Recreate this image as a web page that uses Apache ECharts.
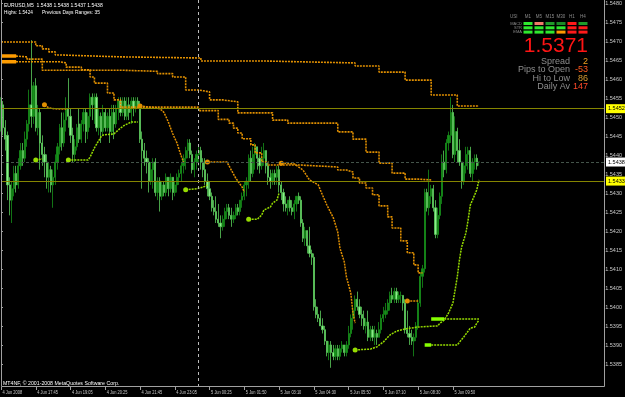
<!DOCTYPE html>
<html><head><meta charset="utf-8">
<script src="https://cdn.jsdelivr.net/npm/echarts@6/dist/echarts.min.js"></script>
<style>html,body{margin:0;padding:0;background:#000;}#c{width:625px;height:397px;}</style>
</head><body><div id="c"></div>
<script>
// ---- x-axis tick labels (every 16 bars of M5) ----
const tickLabels = ["4 Jun 2008","4 Jun 17:45","4 Jun 19:05","4 Jun 20:25","4 Jun 21:45","4 Jun 23:05","5 Jun 00:25","5 Jun 01:50","5 Jun 03:10","5 Jun 04:30","5 Jun 05:50","5 Jun 07:10","5 Jun 08:30","5 Jun 09:50"];
const totalSlots = 279;   // bars + right-side chart shift
const yTickMin = 1.5385, yTickMax = 1.5480, yTickStep = 0.0005;

// ---- candles (EURUSD M5) ----
const opens = [1.5448,1.5453,1.5447,1.5445,1.5432,1.5428,1.5431,1.5435,1.5432,1.5437,
1.5441,1.5439,1.5444,1.5448,1.5453,1.5450,1.5458,1.5447,1.5451,1.5443,
1.5440,1.5438,1.5434,1.5436,1.5432,1.5434,1.5438,1.5442,1.5447,1.5443,
1.5449,1.5452,1.5450,1.5445,1.5440,1.5442,1.5448,1.5444,1.5448,1.5451,
1.5446,1.5450,1.5455,1.5453,1.5455,1.5447,1.5450,1.5446,1.5451,1.5447,
1.5450,1.5446,1.5451,1.5448,1.5452,1.5454,1.5451,1.5454,1.5450,1.5453,
1.5451,1.5454,1.5452,1.5454,1.5453,1.5444,1.5441,1.5439,1.5438,1.5433,
1.5436,1.5438,1.5430,1.5433,1.5429,1.5432,1.5430,1.5434,1.5431,1.5434,
1.5430,1.5432,1.5434,1.5435,1.5437,1.5439,1.5441,1.5443,1.5440,1.5436,
1.5438,1.5440,1.5441,1.5438,1.5436,1.5433,1.5431,1.5429,1.5426,1.5425,
1.5423,1.5422,1.5421,1.5423,1.5425,1.5426,1.5424,1.5423,1.5424,1.5426,
1.5425,1.5428,1.5429,1.5432,1.5433,1.5439,1.5435,1.5440,1.5442,1.5439,
1.5437,1.5439,1.5441,1.5437,1.5434,1.5433,1.5435,1.5434,1.5436,1.5432,
1.5430,1.5427,1.5426,1.5428,1.5426,1.5425,1.5427,1.5429,1.5428,1.5422,
1.5418,1.5420,1.5416,1.5414,1.5413,1.5400,1.5398,1.5397,1.5395,1.5394,
1.5391,1.5388,1.5390,1.5388,1.5387,1.5389,1.5387,1.5389,1.5390,1.5388,
1.5390,1.5393,1.5397,1.5399,1.5402,1.5400,1.5398,1.5397,1.5395,1.5396,
1.5392,1.5394,1.5392,1.5393,1.5392,1.5394,1.5397,1.5398,1.5399,1.5401,
1.5403,1.5402,1.5404,1.5402,1.5403,1.5403,1.5401,1.5394,1.5393,1.5392,
1.5391,1.5392,1.5395,1.5401,1.5408,1.5410,1.5430,1.5426,1.5429,1.5431,
1.5426,1.5419,1.5424,1.5429,1.5438,1.5436,1.5443,1.5445,1.5451,1.5440,
1.5446,1.5441,1.5438,1.5433,1.5437,1.5440,1.5441,1.5435,1.5438,1.5439,
1.5438];
const closes = [1.5453,1.5447,1.5444,1.5432,1.5428,1.5431,1.5435,1.5432,1.5437,1.5441,
1.5439,1.5444,1.5448,1.5453,1.5450,1.5458,1.5447,1.5451,1.5443,1.5440,
1.5438,1.5434,1.5436,1.5432,1.5434,1.5438,1.5442,1.5447,1.5443,1.5449,
1.5452,1.5450,1.5445,1.5440,1.5442,1.5447,1.5444,1.5448,1.5451,1.5446,
1.5450,1.5455,1.5453,1.5455,1.5447,1.5450,1.5446,1.5451,1.5447,1.5450,
1.5446,1.5451,1.5448,1.5452,1.5454,1.5451,1.5454,1.5450,1.5453,1.5451,
1.5454,1.5452,1.5454,1.5453,1.5444,1.5441,1.5439,1.5438,1.5433,1.5436,
1.5438,1.5430,1.5433,1.5429,1.5432,1.5430,1.5434,1.5431,1.5434,1.5430,
1.5432,1.5434,1.5435,1.5437,1.5439,1.5441,1.5443,1.5440,1.5436,1.5438,
1.5440,1.5441,1.5438,1.5436,1.5433,1.5431,1.5429,1.5426,1.5425,1.5423,
1.5422,1.5421,1.5423,1.5425,1.5426,1.5424,1.5423,1.5424,1.5426,1.5425,
1.5428,1.5429,1.5432,1.5433,1.5439,1.5435,1.5440,1.5442,1.5439,1.5437,
1.5439,1.5441,1.5437,1.5434,1.5433,1.5435,1.5434,1.5436,1.5432,1.5430,
1.5427,1.5426,1.5428,1.5426,1.5425,1.5427,1.5429,1.5428,1.5422,1.5418,
1.5420,1.5416,1.5414,1.5413,1.5400,1.5398,1.5397,1.5395,1.5394,1.5391,
1.5388,1.5390,1.5388,1.5387,1.5389,1.5387,1.5389,1.5390,1.5388,1.5390,
1.5393,1.5397,1.5399,1.5402,1.5400,1.5398,1.5397,1.5395,1.5396,1.5392,
1.5394,1.5392,1.5393,1.5392,1.5394,1.5397,1.5398,1.5399,1.5401,1.5403,
1.5402,1.5404,1.5402,1.5403,1.5403,1.5401,1.5394,1.5393,1.5392,1.5391,
1.5392,1.5395,1.5401,1.5408,1.5410,1.5430,1.5426,1.5429,1.5431,1.5426,
1.5419,1.5424,1.5429,1.5438,1.5436,1.5443,1.5445,1.5451,1.5440,1.5446,
1.5441,1.5438,1.5433,1.5437,1.5440,1.5441,1.5435,1.5438,1.5439,1.5437,
1.5438];
const lows = [1.5446,1.5445,1.5441,1.5428,1.5424,1.5422,1.5429,1.5430,1.5431,1.5436,
1.5437,1.5438,1.5442,1.5446,1.5447,1.5448,1.5446,1.5445,1.5436,1.5437,
1.5434,1.5431,1.5430,1.5430,1.5426,1.5432,1.5436,1.5440,1.5441,1.5442,
1.5446,1.5447,1.5443,1.5438,1.5438,1.5441,1.5443,1.5443,1.5446,1.5443,
1.5444,1.5447,1.5449,1.5448,1.5446,1.5445,1.5443,1.5445,1.5446,1.5446,
1.5443,1.5445,1.5444,1.5447,1.5449,1.5450,1.5450,1.5449,1.5449,1.5449,
1.5448,1.5450,1.5451,1.5452,1.5443,1.5431,1.5437,1.5435,1.5430,1.5432,
1.5431,1.5429,1.5428,1.5425,1.5428,1.5429,1.5429,1.5429,1.5430,1.5428,
1.5429,1.5430,1.5432,1.5433,1.5435,1.5436,1.5439,1.5439,1.5435,1.5434,
1.5436,1.5437,1.5436,1.5434,1.5432,1.5429,1.5428,1.5425,1.5424,1.5422,
1.5421,1.5418,1.5420,1.5421,1.5423,1.5423,1.5421,1.5422,1.5423,1.5424,
1.5424,1.5426,1.5428,1.5429,1.5431,1.5433,1.5434,1.5436,1.5436,1.5435,
1.5436,1.5437,1.5435,1.5432,1.5431,1.5432,1.5432,1.5432,1.5430,1.5428,
1.5425,1.5425,1.5424,1.5425,1.5424,1.5423,1.5425,1.5427,1.5421,1.5417,
1.5416,1.5414,1.5413,1.5411,1.5399,1.5397,1.5396,1.5395,1.5393,1.5390,
1.5387,1.5386,1.5384,1.5386,1.5386,1.5386,1.5386,1.5388,1.5387,1.5387,
1.5389,1.5392,1.5394,1.5397,1.5399,1.5397,1.5395,1.5394,1.5393,1.5391,
1.5391,1.5391,1.5390,1.5390,1.5392,1.5393,1.5396,1.5397,1.5398,1.5399,
1.5401,1.5401,1.5401,1.5401,1.5401,1.5399,1.5393,1.5392,1.5390,1.5390,
1.5387,1.5391,1.5394,1.5400,1.5405,1.5409,1.5425,1.5424,1.5427,1.5425,
1.5418,1.5418,1.5423,1.5427,1.5434,1.5435,1.5441,1.5443,1.5439,1.5438,
1.5438,1.5437,1.5431,1.5432,1.5435,1.5436,1.5434,1.5433,1.5436,1.5436,
1.5437];
const highs = [1.5455,1.5454,1.5449,1.5446,1.5434,1.5433,1.5437,1.5437,1.5439,1.5443,
1.5443,1.5446,1.5449,1.5457,1.5470,1.5459,1.5460,1.5453,1.5452,1.5445,
1.5442,1.5440,1.5438,1.5437,1.5436,1.5440,1.5443,1.5448,1.5451,1.5451,
1.5455,1.5460,1.5452,1.5447,1.5444,1.5448,1.5452,1.5449,1.5452,1.5452,
1.5451,1.5456,1.5456,1.5456,1.5456,1.5452,1.5451,1.5453,1.5452,1.5451,
1.5452,1.5453,1.5453,1.5453,1.5455,1.5455,1.5455,1.5455,1.5455,1.5455,
1.5455,1.5455,1.5455,1.5455,1.5454,1.5446,1.5443,1.5441,1.5439,1.5438,
1.5439,1.5439,1.5434,1.5434,1.5433,1.5433,1.5435,1.5434,1.5435,1.5434,
1.5433,1.5435,1.5436,1.5438,1.5440,1.5442,1.5444,1.5444,1.5441,1.5439,
1.5441,1.5442,1.5442,1.5439,1.5439,1.5435,1.5433,1.5430,1.5428,1.5429,
1.5427,1.5424,1.5424,1.5426,1.5427,1.5427,1.5426,1.5425,1.5427,1.5427,
1.5428,1.5430,1.5433,1.5434,1.5440,1.5441,1.5442,1.5443,1.5442,1.5440,
1.5442,1.5443,1.5441,1.5438,1.5436,1.5436,1.5436,1.5437,1.5437,1.5433,
1.5431,1.5429,1.5428,1.5429,1.5428,1.5428,1.5429,1.5430,1.5429,1.5423,
1.5421,1.5420,1.5421,1.5415,1.5414,1.5402,1.5400,1.5399,1.5397,1.5395,
1.5391,1.5391,1.5391,1.5390,1.5390,1.5390,1.5390,1.5391,1.5390,1.5391,
1.5395,1.5398,1.5400,1.5403,1.5404,1.5402,1.5400,1.5399,1.5397,1.5399,
1.5395,1.5395,1.5395,1.5394,1.5396,1.5398,1.5400,1.5401,1.5402,1.5404,
1.5405,1.5405,1.5405,1.5404,1.5404,1.5403,1.5402,1.5399,1.5395,1.5394,
1.5393,1.5396,1.5402,1.5409,1.5411,1.5431,1.5431,1.5436,1.5432,1.5432,
1.5428,1.5426,1.5430,1.5440,1.5441,1.5444,1.5446,1.5455,1.5453,1.5450,
1.5447,1.5444,1.5438,1.5438,1.5442,1.5442,1.5442,1.5439,1.5440,1.5440,
1.5438];

// ---- stepped range lines [barIndex, price] ----
const rangeLine1 = [[0,1.54695],[16,1.54685],[19,1.54677],[22,1.54669],[25,1.54661],[27,1.54656],[55,1.54653],[92,1.54645],[122,1.5464],[163,1.54632],[174,1.54616],[186,1.54595],[198,1.54556],[210,1.54527],[220,1.54527]];
const rangeLine2 = [[0,1.54658],[7,1.54656],[12,1.5465],[19,1.54621],[55,1.54618],[72,1.54612],[79,1.54603],[85,1.54569],[91,1.54564],[96,1.54543],[102,1.54538],[109,1.54509],[125,1.5449],[132,1.54482],[155,1.54459],[162,1.5444],[168,1.54406],[174,1.54377],[180,1.54351],[186,1.54335],[192,1.54333],[198,1.54333]];
const rangeLine3 = [[0,1.54643],[27,1.5464],[30,1.54629],[37,1.54622],[41,1.54603],[43,1.54587],[49,1.54561],[52,1.54543],[55,1.54524],[91,1.54515],[100,1.54492],[105,1.54482],[107,1.54469],[109,1.54456],[111,1.54441],[115,1.54425],[117,1.54404],[120,1.5438],[123,1.54372],[138,1.54367],[155,1.54359],[159,1.54354],[162,1.54338],[165,1.54325],[168,1.54312],[171,1.54294],[174,1.54265],[178,1.54236],[180,1.54207],[184,1.54173],[187,1.54142],[190,1.5411],[192,1.54089],[194,1.54089]];
const rangeStart1 = [[0,1.54658],[7,1.54658]];
const rangeStart2 = [[0,1.54643],[7,1.54643]];

// ---- sell stops (orange) ----
const sellStop1 = [[20,1.5453],[22,1.54522],[26,1.54519],[30,1.54519]];
const sellStop2 = [[64,1.54527],[66,1.54526],[68,1.54524],[70,1.54523],[72,1.54522],[74,1.54516],[75,1.5451],[76,1.54498],[77,1.54485],[78,1.5447],[79,1.54455],[80,1.54442],[81,1.5443],[82,1.54412],[83,1.54395],[84,1.5438]];
const sellStop3 = [[95,1.5438],[104,1.5438],[106,1.54359],[108,1.54338],[111,1.54314],[112,1.54301]];
const sellStop4 = [[129,1.54377],[135,1.54375],[139,1.54359],[142,1.54333],[146,1.5432],[148,1.54293],[150,1.54267],[153,1.54233],[155,1.54196],[156,1.54154],[158,1.54118],[159,1.54078],[161,1.54036],[162,1.53984],[163,1.53957]];
const sellStop5 = [[187,1.54015],[192,1.54015]];

// ---- buy stops (lime) ----
const buyStop1 = [[16,1.54385],[19,1.54388]];
const buyStop2 = [[31,1.54385],[40,1.54385],[41,1.54393],[43,1.54417],[46,1.54446],[47,1.54451],[52,1.54454],[55,1.54469],[57,1.54477],[60,1.54485],[63,1.54485]];
const buyStop3 = [[85,1.54307],[90,1.5431],[93,1.54314],[95,1.5432]];
const buyStop4 = [[114,1.5423],[118,1.5423],[120,1.54241],[121,1.54254],[124,1.54262],[125,1.54272],[127,1.5428],[128,1.54299]];
const buyStop5 = [[163,1.53887],[170,1.53889],[173,1.53895],[176,1.53908],[179,1.53926],[182,1.53936],[186,1.53942],[192,1.53947],[201,1.5395],[202,1.53957],[204,1.53965],[206,1.53984],[208,1.5401],[209,1.54044],[210,1.54078],[211,1.54123],[212,1.54157],[214,1.54194],[215,1.54228],[216,1.54267],[217,1.5428],[219,1.54307],[220,1.54333]];
const levelA_start = [[198,1.53968],[204,1.53968]];
const levelA = [[204,1.53968],[220,1.53968]];
const levelB_start = [[195,1.539],[198,1.539]];
const levelB = [[198,1.539],[210,1.539],[213,1.53921],[216,1.53944],[218,1.53947],[219,1.53957],[220,1.53965]];

// ---- horizontal price lines ----
const upperLevel = 1.5452, lowerLevel = 1.5433, bidPrice = 1.5438, daySeparatorIndex = 91;

// ---- info panel ----
const panelCols = ["M1","M5","M15","M30","H1","H4"];
const panelRows = ["MACD","STR","EMA"];
const panelColors = [
  ["#2ee82e","#f07a6a","#1f9a2a","#1a8a26","#ff1a1a","#1f9a2a"],
  ["#2ee82e","#2ee82e","#2ee82e","#2ee82e","#ff1a1a","#ff1a1a"],
  ["#2ee82e","#2ee82e","#2ee82e","#ff9a00","#ff1a1a","#ff1a1a"]
];
const statLabels = ["Spread","Pips to Open","Hi to Low","Daily Av"];
const statValues = ["2","-53","86","147"];
const statColors = ["#f0a020","#ff5a1e","#d99a30","#ff4a28"];

const chart = echarts.init(document.getElementById('c'), null, {renderer:'canvas'});
const cats = Array.from({length: totalSlots}, (_, i) => i);
const candleData = opens.map((o, i) => [o, closes[i], lows[i], highs[i]]);
const FN = "'Liberation Sans',Arial,sans-serif";
const ORANGE = '#e08f00', LIME = '#96dc00';

function tickShown(idx){ return idx % 16 === 0 && (idx/16) < tickLabels.length; }

function lineS(data, color, width, dash, marker, step){
  return {
    type:'line', xAxisIndex:0, yAxisIndex:0, silent:true,
    step: step || false,
    symbol:'none', showSymbol:true, showAllSymbol:true,
    data: data.map((p,k) => (k===0 && marker) ? {value:p, symbol:'circle', symbolSize:5, itemStyle:{color:color}} : {value:p, symbol:'none'}),
    lineStyle:{color:color, width:width, type:dash},
    z: 3
  };
}
const boxLabel = (txt, bg) => ({show:true, position:'end', formatter: txt, backgroundColor:bg, color:'#000', fontSize:5.5, fontFamily:FN, padding:[2,2,1,2], distance:1});

const levelSeries = {
  type:'line', xAxisIndex:0, yAxisIndex:0, silent:true, symbol:'none',
  data:[[0, bidPrice]], lineStyle:{opacity:0}, z:1,
  markLine:{
    silent:true, symbol:'none', animation:false, precision:5,
    data:[
      {xAxis: daySeparatorIndex, lineStyle:{color:'#bcbcbc', type:[3,3], width:1}, label:{show:false}},
      {yAxis: upperLevel, lineStyle:{color:'#858500', type:'solid', width:1}, label: boxLabel(upperLevel.toFixed(4), '#ffff00')},
      {yAxis: bidPrice, lineStyle:{color:'#44544a', type:[3,2], width:1}, label: boxLabel(bidPrice.toFixed(4), '#ffffff')},
      {yAxis: lowerLevel, lineStyle:{color:'#858500', type:'solid', width:1}, label: boxLabel(lowerLevel.toFixed(4), '#ffff00')}
    ]
  }
};

const series = [
  levelSeries,
  {
    type:'candlestick', xAxisIndex:0, yAxisIndex:0, data:candleData, barWidth:1.7,
    itemStyle:{color:'#16901a', color0:'#8af08a', borderColor:'#16901a', borderColor0:'#5ccc5c', borderWidth:0.8},
    z: 2
  },
  lineS(rangeLine1, ORANGE, 1.6, [2,1], false, 'end'),
  lineS(rangeLine2, ORANGE, 1.6, [2,1], false, 'end'),
  lineS(rangeLine3, ORANGE, 1.6, [2,1], false, 'end'),
  lineS(rangeStart1, '#ff9c00', 3.5, 'solid', false),
  lineS(rangeStart2, '#ff9c00', 3.5, 'solid', false),
  lineS(sellStop1, ORANGE, 1.5, [2,1], true),
  lineS(sellStop2, ORANGE, 1.5, [2,1], true),
  lineS(sellStop3, ORANGE, 1.5, [2,1], true),
  lineS(sellStop4, ORANGE, 1.5, [2,1], true),
  lineS(sellStop5, ORANGE, 1.5, [2,1], true),
  lineS(buyStop1, LIME, 1.5, [2,1], true),
  lineS(buyStop2, LIME, 1.5, [2,1], true),
  lineS(buyStop3, LIME, 1.5, [2,1], true),
  lineS(buyStop4, LIME, 1.5, [2,1], true),
  lineS(buyStop5, LIME, 1.5, [2,1], true),
  lineS(levelA_start, '#86ff00', 3.5, 'solid', false),
  lineS(levelA, LIME, 1.5, [2,1], false),
  lineS(levelB_start, '#86ff00', 3.5, 'solid', false),
  lineS(levelB, LIME, 1.5, [2,1], false)
];

chart.setOption({
  backgroundColor:'#000000',
  animation:false,
  grid:[
    {left:1, right:20, top:0, bottom:10, containLabel:false},
    {left:1, right:20, top:2, bottom:33, containLabel:false}
  ],
  xAxis:[
    {type:'category', gridIndex:0, data:cats, boundaryGap:false,
      axisLine:{show:false},
      axisTick:{show:true, interval:(idx)=>tickShown(idx), length:3, lineStyle:{color:'#a0a0a0'}},
      axisLabel:{show:false},
      splitLine:{show:false}},
    {type:'value', gridIndex:1, show:false, min:0, max:1}
  ],
  yAxis:[
    {type:'value', gridIndex:0, show:false, min:1.537896, max:1.548052, scale:true},
    {type:'value', gridIndex:1, position:'right', min:yTickMin, max:yTickMax, interval:yTickStep,
      axisLine:{show:false}, splitLine:{show:false},
      axisTick:{show:true, length:2, lineStyle:{color:'#a0a0a0'}},
      axisLabel:{color:'#c8c8c8', fontSize:5.5, fontFamily:FN, margin:2, formatter:(v)=>v.toFixed(4)}}
  ],
  series: series
});

// graphics: frame, texts, panel
const g = [];
const txt = (t, x, y, fill, size, sx, extra) => ({type:'text', silent:true, z:10, x:x, y:y, scaleX:sx||1,
  style:Object.assign({text:t, x:0, y:0, fill:fill, fontSize:size, fontFamily:FN, textVerticalAlign:'middle'}, extra||{})});
g.push({type:'polyline', silent:true, z:10, shape:{points:[[1.5,0],[1.5,386.5],[604.5,386.5],[604.5,0]]}, style:{stroke:'#a0a0a0', fill:null, lineWidth:1}});
g.push(txt('EURUSD,M5  1.5438 1.5438 1.5437 1.5438', 4, 5, '#ffffff', 5.5, 0.92));
g.push(txt('Highs: 1.5424', 4, 12, '#ffffff', 5.5, 0.85));
g.push(txt('Previous Days Ranges: 35', 42, 12, '#ffffff', 5.5, 0.89));
g.push(txt('MT4NF, \u00a9 2001-2008 MetaQuotes Software Corp.', 3, 383, '#ffffff', 5.5, 0.95));
tickLabels.forEach((t, k) => {
  const px = chart.convertToPixel({xAxisIndex:0}, k*16);
  g.push(txt(t, px + 1.5, 392.5, '#c8c8c8', 5.5, 0.72));
});
g.push(txt('USI', 510, 17, '#8a8a8a', 4.5, 1));
panelCols.forEach((c,j) => g.push(txt(c, 528 + j*11, 17, '#8a8a8a', 4.5, 1, {textAlign:'center'})));
panelRows.forEach((r,i) => {
  g.push(txt(r, 522, 23.5 + i*4.3, '#8a8a8a', 4, 1, {textAlign:'right'}));
  panelColors[i].forEach((col,j) => {
    g.push({type:'rect', silent:true, z:10, shape:{x:523.5 + j*11, y:22 + i*4.3, width:9, height:3}, style:{fill:col}});
  });
});
g.push(txt('1.5371', 588, 46, '#ff1414', 21, 1, {textAlign:'right'}));
statLabels.forEach((t,i) => {
  g.push(txt(t, 570, 61.5 + i*8.3, '#8c8c8c', 9, 1, {textAlign:'right'}));
  g.push(txt(statValues[i], 588, 61.5 + i*8.3, statColors[i], 9, 1, {textAlign:'right'}));
});
chart.setOption({graphic: g});
</script>
</body></html>
